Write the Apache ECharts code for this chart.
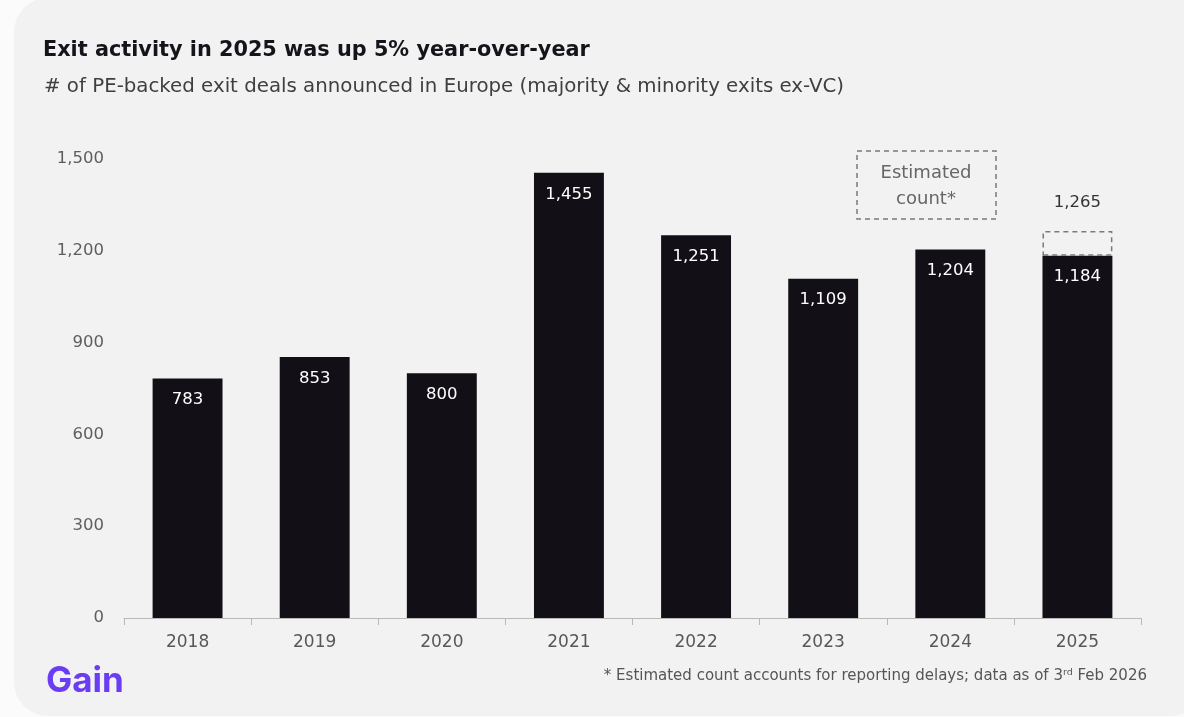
<!DOCTYPE html>
<html><head><meta charset="utf-8">
<script src="https://cdn.jsdelivr.net/npm/echarts@6/dist/echarts.min.js"></script>
<style>
html,body{margin:0;padding:0;width:1184px;height:717px;background:#fbfbfb;overflow:hidden;}
#card{position:absolute;left:14px;top:-2px;width:1190px;height:718px;background:#f1f2f1;border-radius:34px;}
#chart{position:absolute;left:0;top:0;width:1184px;height:717px;}
</style></head>
<body><div id="card"></div><div id="chart"></div>
<script>
const categories = ['2018','2019','2020','2021','2022','2023','2024','2025'];
const reported = [783, 853, 800, 1455, 1251, 1109, 1204, 1184];
const estimatedTotal = [null, null, null, null, null, null, null, 1265];
const yTicks = {min: 0, max: 1500, interval: 300};

const fmt = v => v.toLocaleString('en-US');
const estExtra = estimatedTotal.map((t, i) => t == null ? null : t - reported[i]);

const chart = echarts.init(document.getElementById('chart'), null, {renderer: 'canvas'});
const FONT = '"DejaVu Sans"';
chart.setOption({
  backgroundColor: 'transparent',
  animation: false,
  textStyle: {fontFamily: FONT},
  title: [{
    text: 'Exit activity in 2025 was up 5% year-over-year',
    left: 43, top: 40, padding: 0,
    textStyle: {fontFamily: FONT, fontSize: 20.8, fontWeight: 'bold', color: '#16141a'}
  }, {
    text: '# of PE-backed exit deals announced in Europe (majority & minority exits ex-VC)',
    left: 44, top: 77, padding: 0,
    textStyle: {fontFamily: FONT, fontSize: 19.8, fontWeight: 'normal', color: '#3f3f3f'}
  }],
  grid: {left: 124, right: 43, top: 159, bottom: 99, containLabel: false},
  xAxis: {
    type: 'category', data: categories,
    axisLine: {lineStyle: {color: '#b9b9b9', width: 1}},
    axisTick: {show: true, length: 7, lineStyle: {color: '#b9b9b9'}},
    axisLabel: {color: '#585858', fontSize: 17, margin: 16, fontFamily: FONT}
  },
  yAxis: {
    type: 'value', min: yTicks.min, max: yTicks.max, interval: yTicks.interval,
    splitLine: {show: false}, axisLine: {show: false}, axisTick: {show: false},
    axisLabel: {color: '#5e5e5e', fontSize: 16.5, margin: 20, fontFamily: FONT, padding: [3, 0, 0, 0],
      formatter: v => fmt(v)}
  },
  series: [{
    type: 'bar', stack: 'a', data: reported, barWidth: '55%',
    itemStyle: {color: '#121016'},
    label: {show: true, position: 'insideTop', distance: 13, color: '#fff', fontSize: 16.5, fontFamily: FONT,
      formatter: p => fmt(p.value)}
  }, {
    type: 'bar', stack: 'a', data: estExtra, barWidth: '55%',
    itemStyle: {color: 'rgba(0,0,0,0)', borderColor: '#7a7a7a', borderWidth: 1.5, borderType: [5, 4]},
    label: {show: true, position: 'top', distance: 20, color: '#333', fontSize: 16.5, fontFamily: FONT,
      formatter: p => estimatedTotal[p.dataIndex] == null ? '' : fmt(estimatedTotal[p.dataIndex])}
  }],
  graphic: [{
    type: 'rect', x: 857, y: 151,
    shape: {width: 139, height: 68},
    style: {fill: 'none', stroke: '#7a7a7a', lineWidth: 1.5, lineDash: [5, 4]}
  }, {
    type: 'text', x: 926, y: 160,
    style: {text: 'Estimated\ncount*', fill: '#666', font: '18px ' + FONT, align: 'center', lineHeight: 26}
  }, {
    type: 'text', x: 46, y: 664,
    style: {text: 'Gain', fill: '#6a3cf4', font: 'bold 35px Inter'}
  }, {
    type: 'text', right: 37, top: 668,
    style: {
      text: '{a|* Estimated count accounts for reporting delays; data as of 3}{s|rd}{a| Feb 2026}',
      rich: {
        a: {fill: '#555', font: '15px ' + FONT, verticalAlign: 'bottom'},
        s: {fill: '#555', font: '9.5px ' + FONT, verticalAlign: 'top', padding: [0, 0, 6, 0]}
      }
    }
  }]
});
</script></body></html>
